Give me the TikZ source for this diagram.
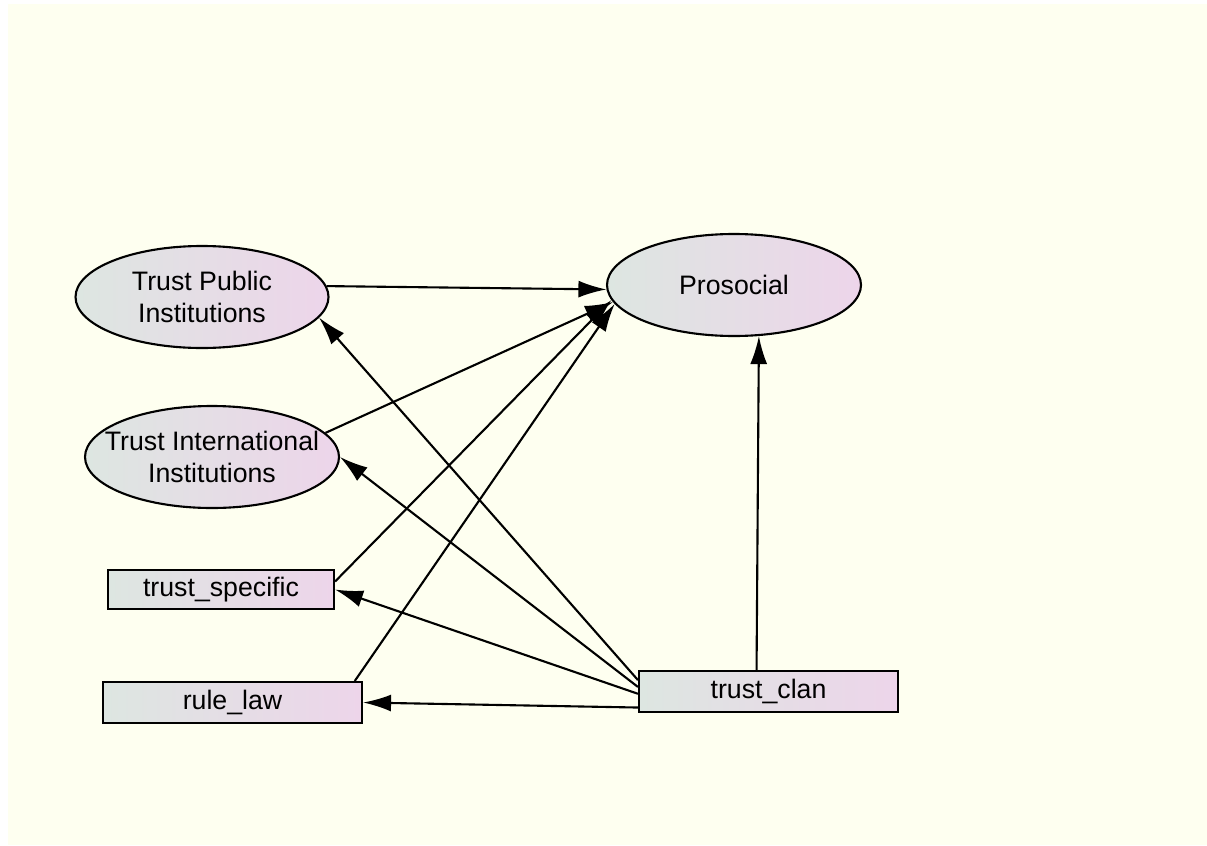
\documentclass[tikz,border=0pt]{standalone}
\usepackage{fontspec}
\setmainfont{Liberation Sans}
\usepackage{tikz}
\usetikzlibrary{arrows.meta,shapes.geometric}
\definecolor{bgivory}{RGB}{254,255,240}
\definecolor{fillleft}{RGB}{221,230,225}
\definecolor{fillright}{RGB}{237,213,234}

\begin{document}
\begin{tikzpicture}[
                    latent/.style={ellipse, draw, line width=0.6pt, left color=fillleft, right color=fillright, minimum width=2.53cm, minimum height=1.02cm, inner sep=0pt, align=center, font=\fontsize{7.6}{8.9}\selectfont},
                    observed/.style={rectangle, draw, line width=0.6pt, left color=fillleft, right color=fillright, minimum height=0.4cm, inner sep=0pt, font=\fontsize{7.6}{8.9}\selectfont},
                    path/.style={-{Latex[length=0.28cm, width=0.17cm]}, line width=0.6pt}]
                \useasboundingbox (0, 0) rectangle (12.07, 8.45);
                \fill[white] (0, 0) rectangle (12.07, 8.45);
                \fill[bgivory] (0.08, 0) rectangle (12.07, 8.41);

                \node[latent] (tpi) at (2.02, 5.48) {Trust Public\\Institutions};
                \node[latent, minimum width=2.54cm] (pros) at (7.34, 5.60) {Prosocial};
                \node[latent, minimum width=2.54cm, inner xsep=-0.2cm] (tii) at (2.12, 3.88) {Trust International\\Institutions};
                \node[observed, minimum width=2.26cm, minimum height=0.39cm] (tspec) at (2.21, 2.555) {trust\_specific};
                \node[observed, minimum width=2.59cm, minimum height=0.41cm] (rlaw) at (2.325, 1.425) {rule\_law};
                \node[observed, minimum width=2.59cm, minimum height=0.41cm] (tclan) at (7.685, 1.535) {trust\_clan};

                \draw[path] (tpi.5) -- (pros.182);
                \draw[path] (tii.12) -- (pros.188);
                \draw[path] (tspec.4) -- (pros.187);
                \draw[path] (rlaw.10) -- (pros.189);
                \draw[path] (tclan.119) -- (pros.296);
                \draw[path] (tclan.175) -- (tpi.350);
                \draw[path] (tclan.178.5) -- (tii.east);
                \draw[path] (tclan.181.5) -- (tspec.east);
                \draw[path] (tclan.187) -- (rlaw.east);
            \end{tikzpicture}
\end{document}
